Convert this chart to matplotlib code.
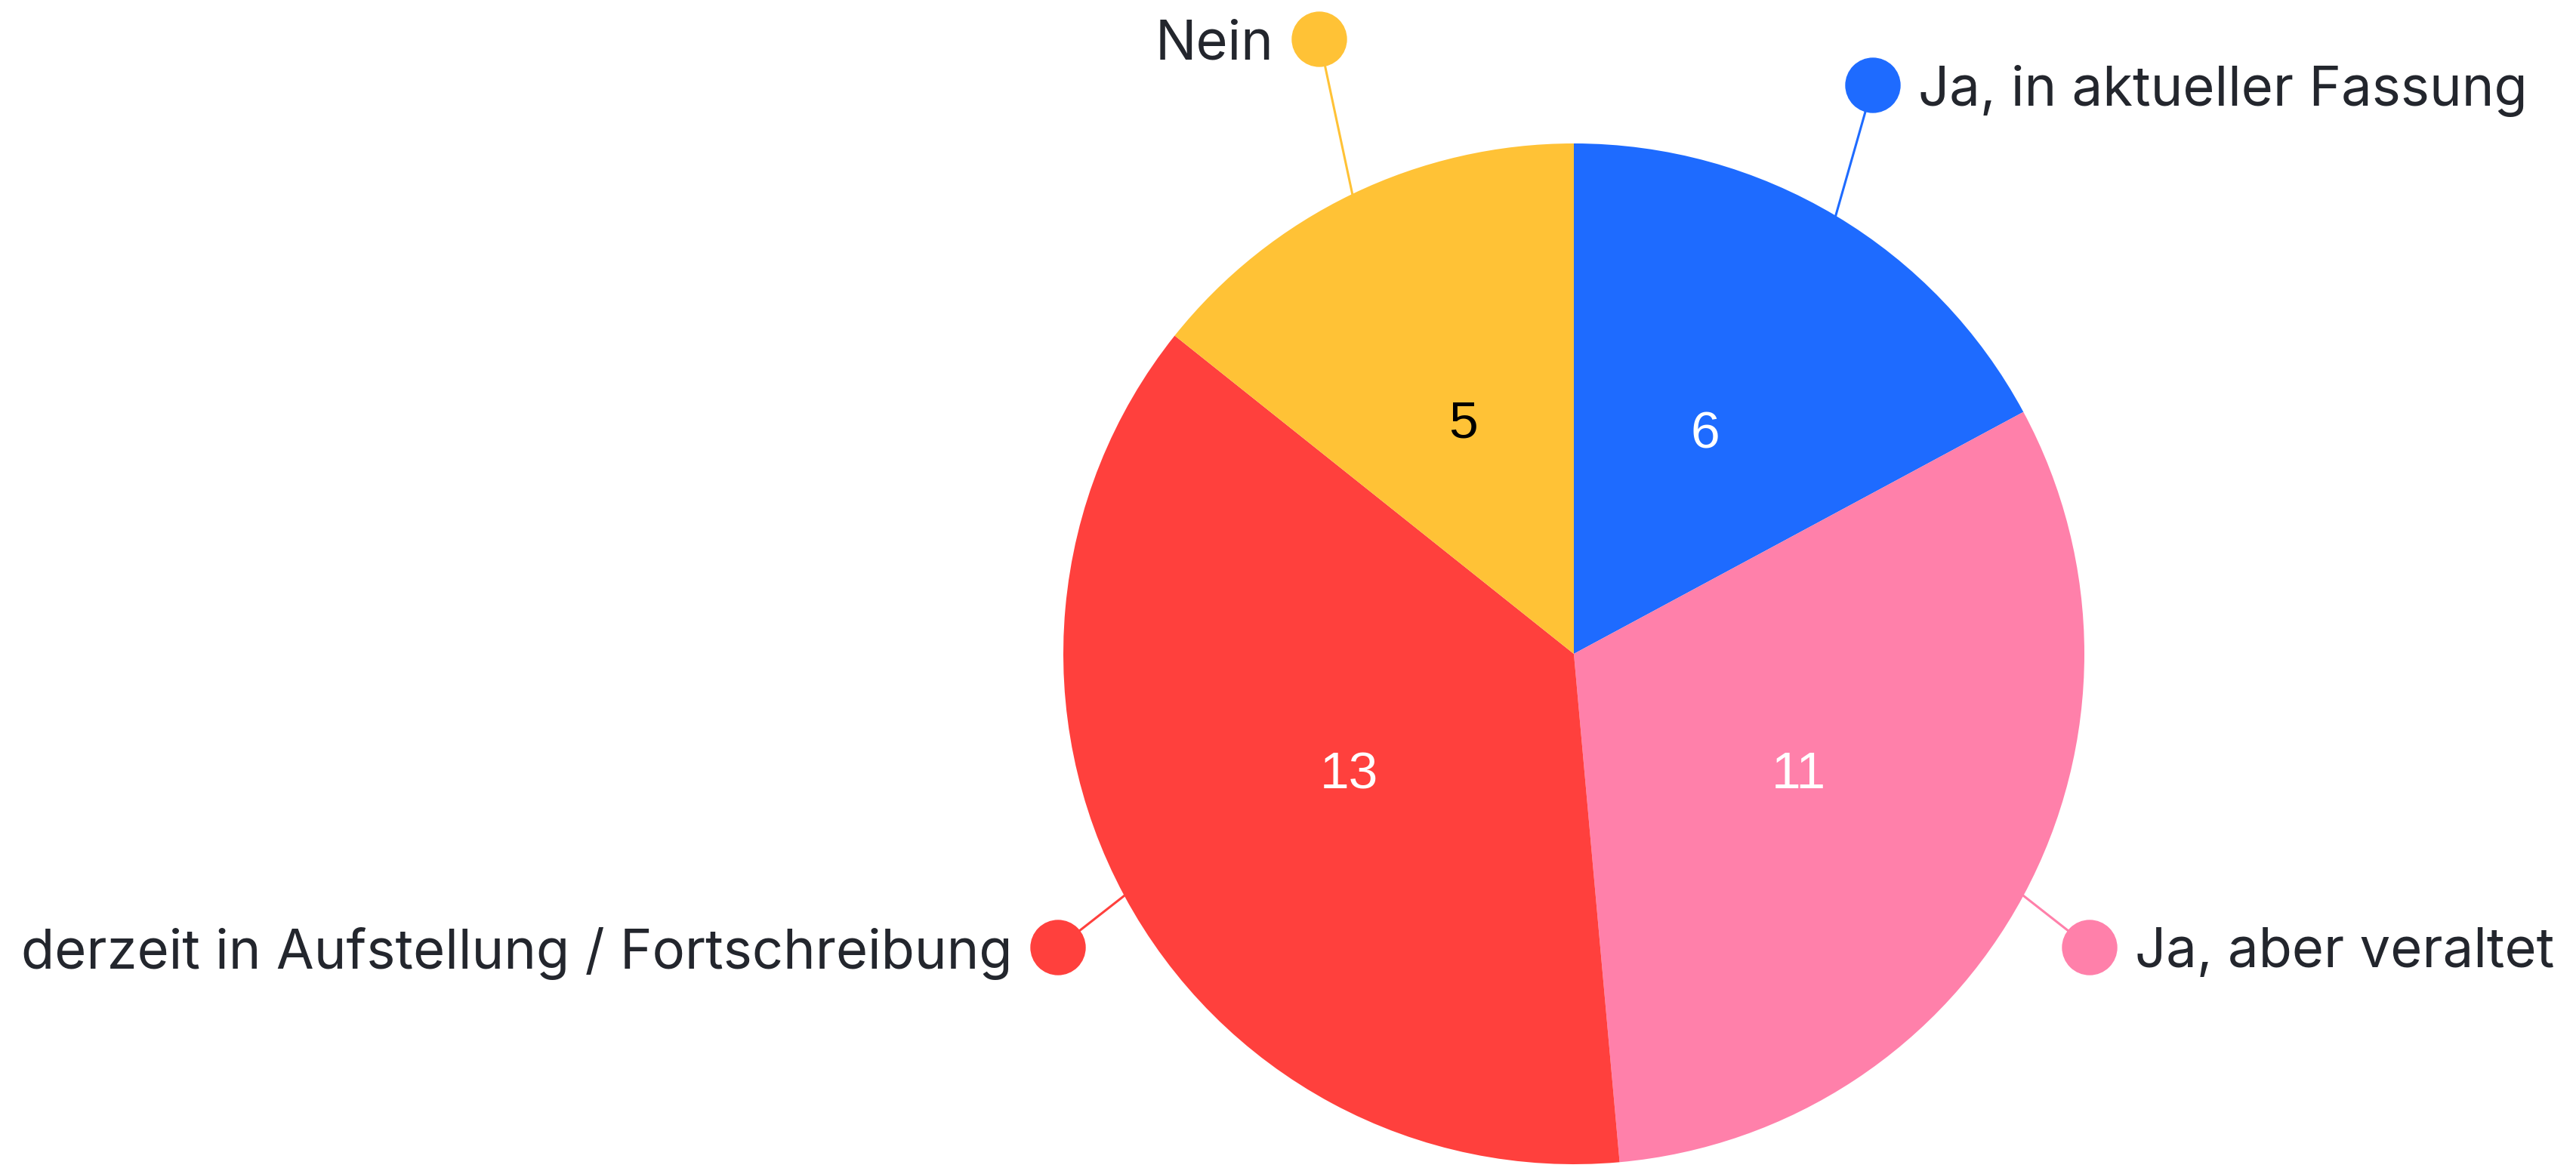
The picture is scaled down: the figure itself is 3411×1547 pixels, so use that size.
import matplotlib
matplotlib.use("Agg")
import matplotlib.pyplot as plt
from matplotlib.patches import Circle
import numpy as np

# === DATA ===
labels = ["Ja, in aktueller Fassung", "Ja, aber veraltet",
          "derzeit in Aufstellung / Fortschreibung", "Nein"]
values = [6, 11, 13, 5]
colors = ["#1E6BFF", "#FF80AA", "#FF403D", "#FFC236"]
value_colors = ["white", "white", "white", "black"]

# === LAYOUT (pixels) ===
W, H = 3411, 1547
cx, cy, r = 2084, H - 866, 676
# label dot positions (x, y from top)
dot_pos = [(2480, 113), (2767, 1255), (1401, 1255), (1747, 52)]
text_side = ["left", "left", "right", "right"]
text_color = "#23262D"

plt.rcParams["font.family"] = ["Inter", "DejaVu Sans"]

fig = plt.figure(figsize=(W / 100, H / 100), dpi=100)
ax = fig.add_axes([0, 0, 1, 1])

total = sum(values)
wedges, _, autotexts = ax.pie(
    values, colors=colors, startangle=90, counterclock=False,
    center=(cx, cy), radius=r, pctdistance=0.5,
    autopct=lambda p: f"{round(p * total / 100)}",
    textprops=dict(family="Liberation Sans", fontsize=50),
    wedgeprops=dict(linewidth=0),
)
for t, c in zip(autotexts, value_colors):
    t.set_color(c)

# pie() resets the limits, so set them afterwards
ax.set_xlim(0, W)
ax.set_ylim(0, H)
ax.set_aspect("equal")
ax.axis("off")

for w, (dx, dy), side, lab, col in zip(wedges, dot_pos, text_side, labels, colors):
    mid = np.deg2rad((w.theta1 + w.theta2) / 2)
    ex, ey = cx + r * np.cos(mid), cy + r * np.sin(mid)
    dy = H - dy
    ax.plot([ex, dx], [ey, dy], color=col, lw=2.2, zorder=1)
    ax.add_patch(Circle((dx, dy), 36, color=col, zorder=3))
    if side == "left":
        ax.text(dx + 60, dy, lab, ha="left", va="center_baseline",
                fontsize=52, color=text_color)
    else:
        ax.text(dx - 60, dy, lab, ha="right", va="center_baseline",
                fontsize=52, color=text_color)

fig.savefig("out.png", dpi=100, facecolor="white")
